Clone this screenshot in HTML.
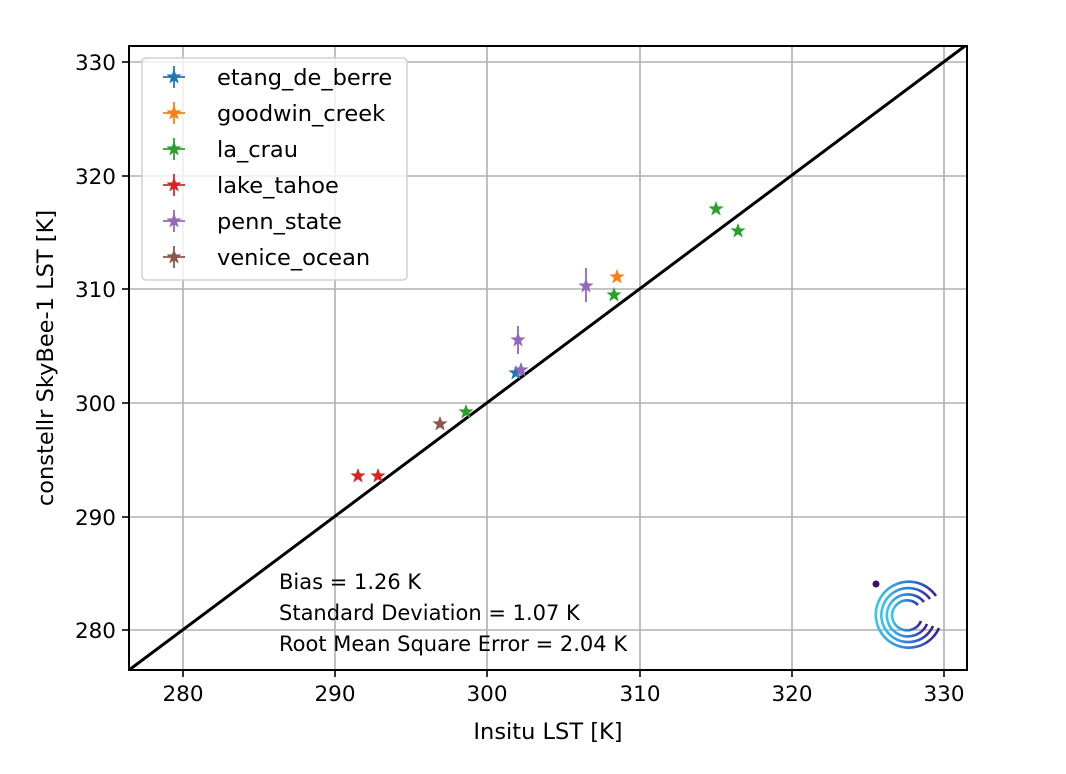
<!DOCTYPE html>
<html><head><style>body{margin:0;background:#fff}svg text{font-family:"DejaVu Sans","Liberation Sans",sans-serif}</style></head><body>
<svg width="1066" height="769" viewBox="0 0 1066 769" xmlns="http://www.w3.org/2000/svg">
<defs><polygon id="s" points="0,-8 2,-2.6 7.6,-2.5 3.1,1 4.7,6.5 0,3.2 -4.7,6.5 -3.1,1 -7.6,-2.5 -2,-2.6"/></defs>
<g stroke="#b0b0b0" stroke-width="1.6">
<line x1="183" y1="46" x2="183" y2="670"/><line x1="335" y1="46" x2="335" y2="670"/><line x1="487" y1="46" x2="487" y2="670"/><line x1="640" y1="46" x2="640" y2="670"/><line x1="792" y1="46" x2="792" y2="670"/><line x1="944" y1="46" x2="944" y2="670"/>
<line x1="129" y1="62" x2="967" y2="62"/><line x1="129" y1="176" x2="967" y2="176"/><line x1="129" y1="289" x2="967" y2="289"/><line x1="129" y1="403" x2="967" y2="403"/><line x1="129" y1="517" x2="967" y2="517"/><line x1="129" y1="630" x2="967" y2="630"/>
</g>
<line x1="129" y1="670" x2="965" y2="46" stroke="#000" stroke-width="3"/>
<g stroke="#9467bd" stroke-width="1.8"><line x1="586" y1="268" x2="586" y2="302"/><line x1="518" y1="326" x2="518" y2="354"/><line x1="521" y1="364" x2="521" y2="376"/></g>
<use href="#s" x="516" y="373" fill="#1f77b4"/>
<use href="#s" x="617" y="277" fill="#ff7f0e"/>
<g fill="#2ca02c"><use href="#s" x="716" y="209"/><use href="#s" x="738" y="231"/><use href="#s" x="614" y="295"/><use href="#s" x="466" y="412"/></g>
<g fill="#d62728"><use href="#s" x="358" y="476"/><use href="#s" x="378" y="476"/></g>
<g fill="#9467bd"><use href="#s" x="586" y="286"/><use href="#s" x="518" y="340"/><use href="#s" x="521" y="370"/></g>
<use href="#s" x="440" y="424" fill="#8c564b"/>
<rect x="129" y="46" width="838" height="624" fill="none" stroke="#000" stroke-width="2"/>
<g stroke="#000" stroke-width="1.6">
<line x1="183" y1="670" x2="183" y2="677"/><line x1="335" y1="670" x2="335" y2="677"/><line x1="487" y1="670" x2="487" y2="677"/><line x1="640" y1="670" x2="640" y2="677"/><line x1="792" y1="670" x2="792" y2="677"/><line x1="944" y1="670" x2="944" y2="677"/>
<line x1="122" y1="62" x2="129" y2="62"/><line x1="122" y1="176" x2="129" y2="176"/><line x1="122" y1="289" x2="129" y2="289"/><line x1="122" y1="403" x2="129" y2="403"/><line x1="122" y1="517" x2="129" y2="517"/><line x1="122" y1="630" x2="129" y2="630"/>
</g>
<g font-size="21.5" text-anchor="middle" fill="#000">
<text x="183" y="701">280</text><text x="335" y="701">290</text><text x="487" y="701">300</text><text x="640" y="701">310</text><text x="792" y="701">320</text><text x="944" y="701">330</text>
</g>
<g font-size="21.5" text-anchor="end"><text x="116" y="70">330</text><text x="116" y="184">320</text><text x="116" y="297">310</text><text x="116" y="411">300</text><text x="116" y="525">290</text><text x="116" y="638">280</text></g>
<text x="548" y="739" font-size="22.5" text-anchor="middle">Insitu LST [K]</text>
<text transform="translate(53,358) rotate(-90)" font-size="22.5" text-anchor="middle">constellr SkyBee-1 LST [K]</text>
<rect x="142" y="58" width="265" height="222" rx="4" fill="#fff" fill-opacity="0.8" stroke="#d0d0d0" stroke-width="1.5"/>
<g font-size="22.5">
<g><line x1="163" y1="77" x2="185" y2="77" stroke="#1f77b4" stroke-width="1.8"/><line x1="174" y1="66" x2="174" y2="88" stroke="#1f77b4" stroke-width="1.8"/><use href="#s" x="174" y="77" fill="#1f77b4"/><text x="217" y="85">etang_de_berre</text></g>
<g><line x1="163" y1="113" x2="185" y2="113" stroke="#ff7f0e" stroke-width="1.8"/><line x1="174" y1="102" x2="174" y2="124" stroke="#ff7f0e" stroke-width="1.8"/><use href="#s" x="174" y="113" fill="#ff7f0e"/><text x="217" y="121">goodwin_creek</text></g>
<g><line x1="163" y1="149" x2="185" y2="149" stroke="#2ca02c" stroke-width="1.8"/><line x1="174" y1="138" x2="174" y2="160" stroke="#2ca02c" stroke-width="1.8"/><use href="#s" x="174" y="149" fill="#2ca02c"/><text x="217" y="157">la_crau</text></g>
<g><line x1="163" y1="185" x2="185" y2="185" stroke="#d62728" stroke-width="1.8"/><line x1="174" y1="174" x2="174" y2="196" stroke="#d62728" stroke-width="1.8"/><use href="#s" x="174" y="185" fill="#d62728"/><text x="217" y="193">lake_tahoe</text></g>
<g><line x1="163" y1="221" x2="185" y2="221" stroke="#9467bd" stroke-width="1.8"/><line x1="174" y1="210" x2="174" y2="232" stroke="#9467bd" stroke-width="1.8"/><use href="#s" x="174" y="221" fill="#9467bd"/><text x="217" y="229">penn_state</text></g>
<g><line x1="163" y1="257" x2="185" y2="257" stroke="#8c564b" stroke-width="1.8"/><line x1="174" y1="246" x2="174" y2="268" stroke="#8c564b" stroke-width="1.8"/><use href="#s" x="174" y="257" fill="#8c564b"/><text x="217" y="265">venice_ocean</text></g>
</g>
<g font-size="21"><text x="279" y="589">Bias = 1.26 K</text><text x="279" y="620">Standard Deviation = 1.07 K</text><text x="279" y="651">Root Mean Square Error = 2.04 K</text></g>
<defs><linearGradient id="g" x1="0" y1="0" x2="1" y2="0"><stop offset="0" stop-color="#35c6ee"/><stop offset="0.6" stop-color="#2f6fd8"/><stop offset="1" stop-color="#3a1c8c"/></linearGradient></defs>
<circle cx="876" cy="584" r="3.5" fill="#3a1060"/>
<g fill="none" stroke="url(#g)" stroke-width="2.6">
<path d="M936,596 A33,33 0 1 0 939,628"/>
<path d="M930,599 A27,27 0 1 0 933,626"/>
<path d="M924,602 A21,21 0 1 0 927,624"/>
<path d="M918,605 A15,15 0 1 0 921,621"/>
</g>
</svg>
</body></html>
